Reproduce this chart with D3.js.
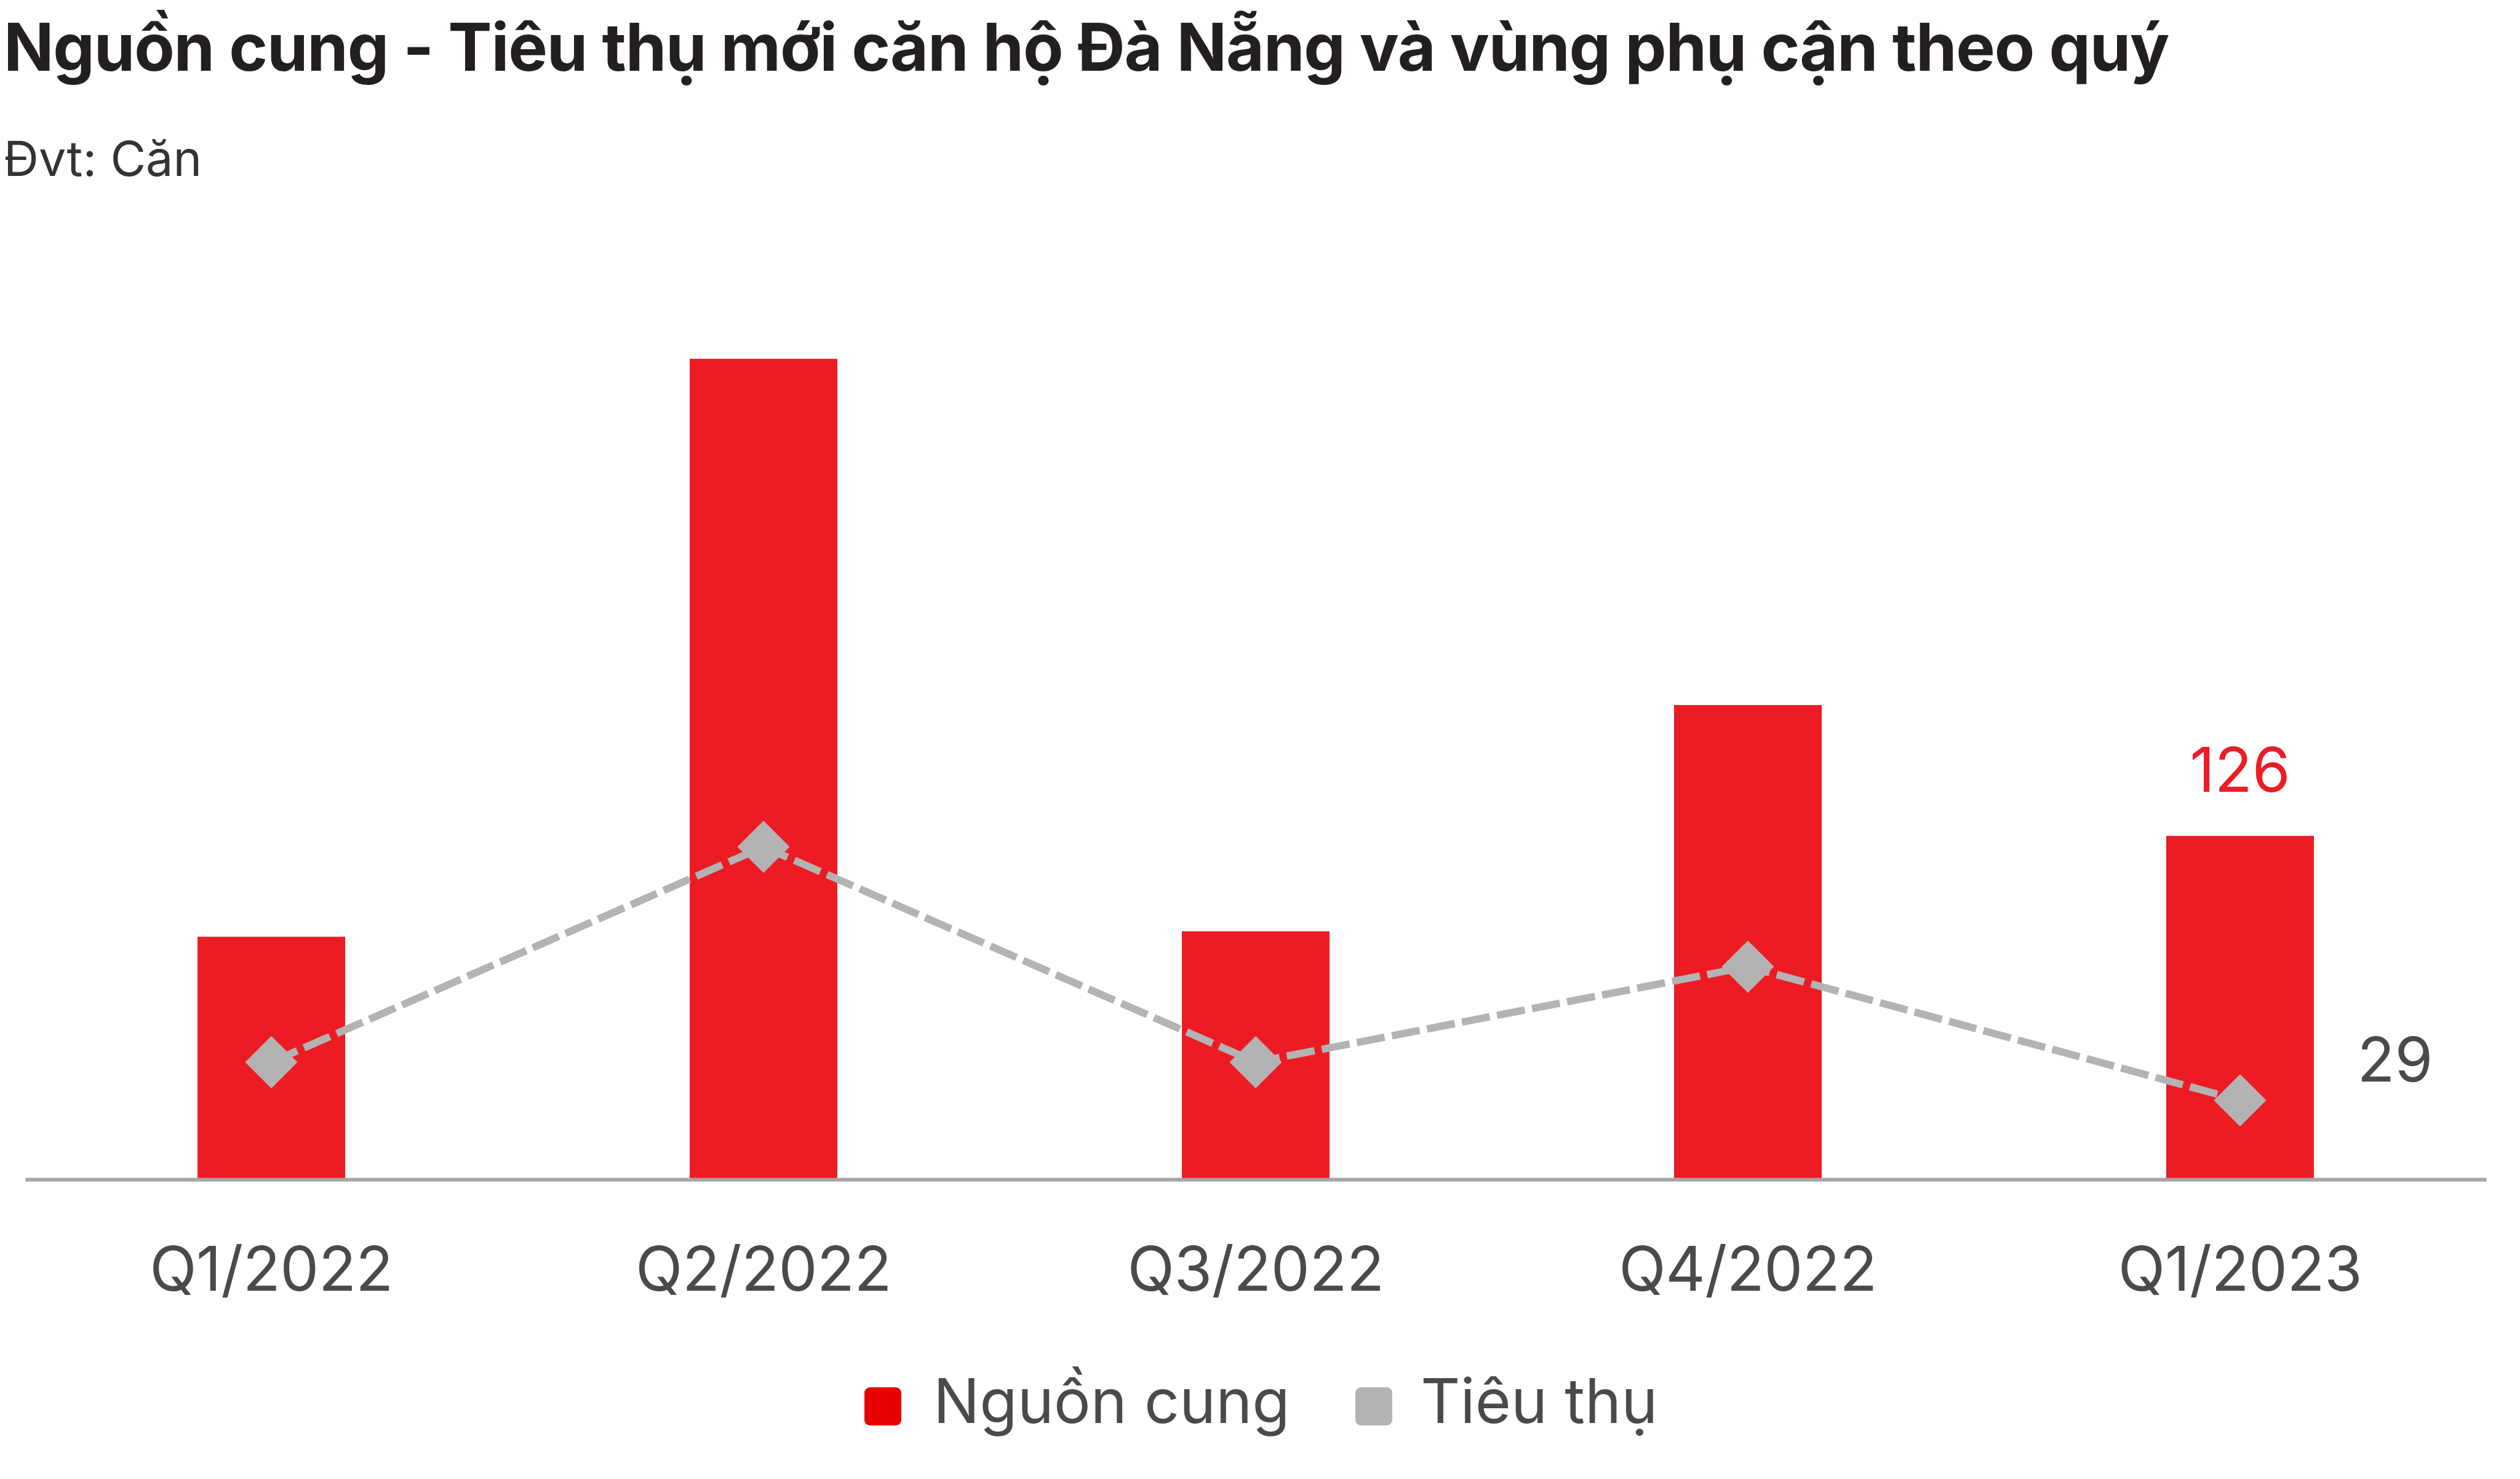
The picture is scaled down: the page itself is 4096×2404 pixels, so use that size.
<!DOCTYPE html>
<html>
<head>
<meta charset="utf-8">
<script src="https://cdnjs.cloudflare.com/ajax/libs/d3/7.8.5/d3.min.js"></script>
<style>
  body { margin: 0; background: #fff; }
  svg { display: block; font-family: Inter, "Noto Sans", sans-serif; }
</style>
</head>
<body>
<svg id="chart"></svg>
<script>
// data
const quarters = ['Q1/2022', 'Q2/2022', 'Q3/2022', 'Q4/2022', 'Q1/2023'];
const nguonCung = [89, 301, 91, 174, 126];
const tieuThu = [43, 122, 43, 78, 29];
const seriesNames = ['Nguồn cung', 'Tiêu thụ'];

class ComboChart {
  constructor(_config) {
    this.config = {
      parentElement: _config.parentElement,
      containerWidth: _config.containerWidth || 4096,
      containerHeight: _config.containerHeight || 2404
    }
    this.initVis();
  }

  initVis() {
    let vis = this;
    vis.barColor = '#ed1c24';
    vis.lineColor = '#b3b3b3';
    vis.textColor = '#4a4a4a';

    vis.svg = d3.select(vis.config.parentElement)
      .attr('width', vis.config.containerWidth)
      .attr('height', vis.config.containerHeight);

    vis.svg.append('rect')
      .attr('width', vis.config.containerWidth)
      .attr('height', vis.config.containerHeight)
      .attr('fill', '#fff');

    // Title
    vis.svg.append('text')
      .attr('x', 6)
      .attr('y', 115)
      .attr('font-size', 107)
      .attr('font-weight', 700)
      .attr('fill', '#231f20')
      .attr('letter-spacing', -1.2)
      .text('Nguồn cung - Tiêu thụ mới căn hộ Đà Nẵng và vùng phụ cận theo quý');

    vis.svg.append('text')
      .attr('x', 6)
      .attr('y', 286)
      .attr('font-size', 79)
      .attr('fill', '#333')
      .text('Đvt: Căn');

    vis.x = d3.scaleBand()
      .domain(quarters)
      .range([41, 4041])
      .paddingInner(0.7)
      .paddingOuter(0.35);

    vis.y = d3.scaleLinear()
      .domain([0, 320])
      .range([1917, 499]);

    // Bars
    vis.svg.append('g')
      .selectAll('rect')
      .data(nguonCung)
      .join('rect')
        .attr('x', (d, i) => vis.x(quarters[i]))
        .attr('y', d => vis.y(d))
        .attr('width', vis.x.bandwidth())
        .attr('height', d => vis.y(0) - vis.y(d))
        .attr('fill', vis.barColor);

    // Axis
    let xAxis = vis.svg.append('g')
      .attr('transform', `translate(0,${vis.y(0)})`)
      .call(d3.axisBottom(vis.x).tickSize(0).tickSizeOuter(0));
    xAxis.select('.domain')
      .attr('stroke', '#a6a6a6')
      .attr('stroke-width', 6);
    xAxis.selectAll('text')
      .attr('y', 181)
      .attr('dy', null)
      .attr('font-size', 100)
      .attr('letter-spacing', -0.5)
      .attr('font-family', 'Inter, "Noto Sans", sans-serif')
      .attr('fill', vis.textColor);

    // Line
    let cx = (d, i) => vis.x(quarters[i]) + vis.x.bandwidth() / 2;
    let line = d3.line()
      .x(cx)
      .y(d => vis.y(d));

    vis.svg.append('path')
      .datum(tieuThu)
      .attr('d', line)
      .attr('fill', 'none')
      .attr('stroke', vis.lineColor)
      .attr('stroke-width', 12)
      .attr('stroke-dasharray', '46,12');

    vis.svg.append('g')
      .selectAll('path')
      .data(tieuThu)
      .join('path')
        .attr('transform', (d, i) => `translate(${cx(d, i)},${vis.y(d)})`)
        .attr('d', d3.symbol().type(d3.symbolDiamond2).size(4600))
        .attr('fill', vis.lineColor);

    // Labels on last point
    let last = quarters.length - 1;
    vis.svg.append('text')
      .attr('x', cx(null, last))
      .attr('y', vis.y(nguonCung[last]) - 72)
      .attr('text-anchor', 'middle')
      .attr('font-size', 100)
      .attr('fill', vis.barColor)
      .text(nguonCung[last]);

    vis.svg.append('text')
      .attr('x', cx(null, last) + 252)
      .attr('y', vis.y(tieuThu[last]) - 30)
      .attr('text-anchor', 'middle')
      .attr('font-size', 100)
      .attr('fill', vis.textColor)
      .text(tieuThu[last]);

    // Legend
    let legendColors = ['#e60000', vis.lineColor];
    let legendX = [1405, 2203];
    let legend = vis.svg.append('g')
      .selectAll('g')
      .data(seriesNames)
      .join('g')
        .attr('transform', (d, i) => `translate(${legendX[i]},2255)`);
    legend.append('rect')
      .attr('width', 60)
      .attr('height', 62)
      .attr('rx', 9)
      .attr('fill', (d, i) => legendColors[i]);
    legend.append('text')
      .attr('x', (d, i) => i === 0 ? 112 : 106)
      .attr('y', 58)
      .attr('font-size', 100)
      .attr('fill', vis.textColor)
      .text(d => d);
  }
}

new ComboChart({ parentElement: '#chart' });
</script>
</body>
</html>
